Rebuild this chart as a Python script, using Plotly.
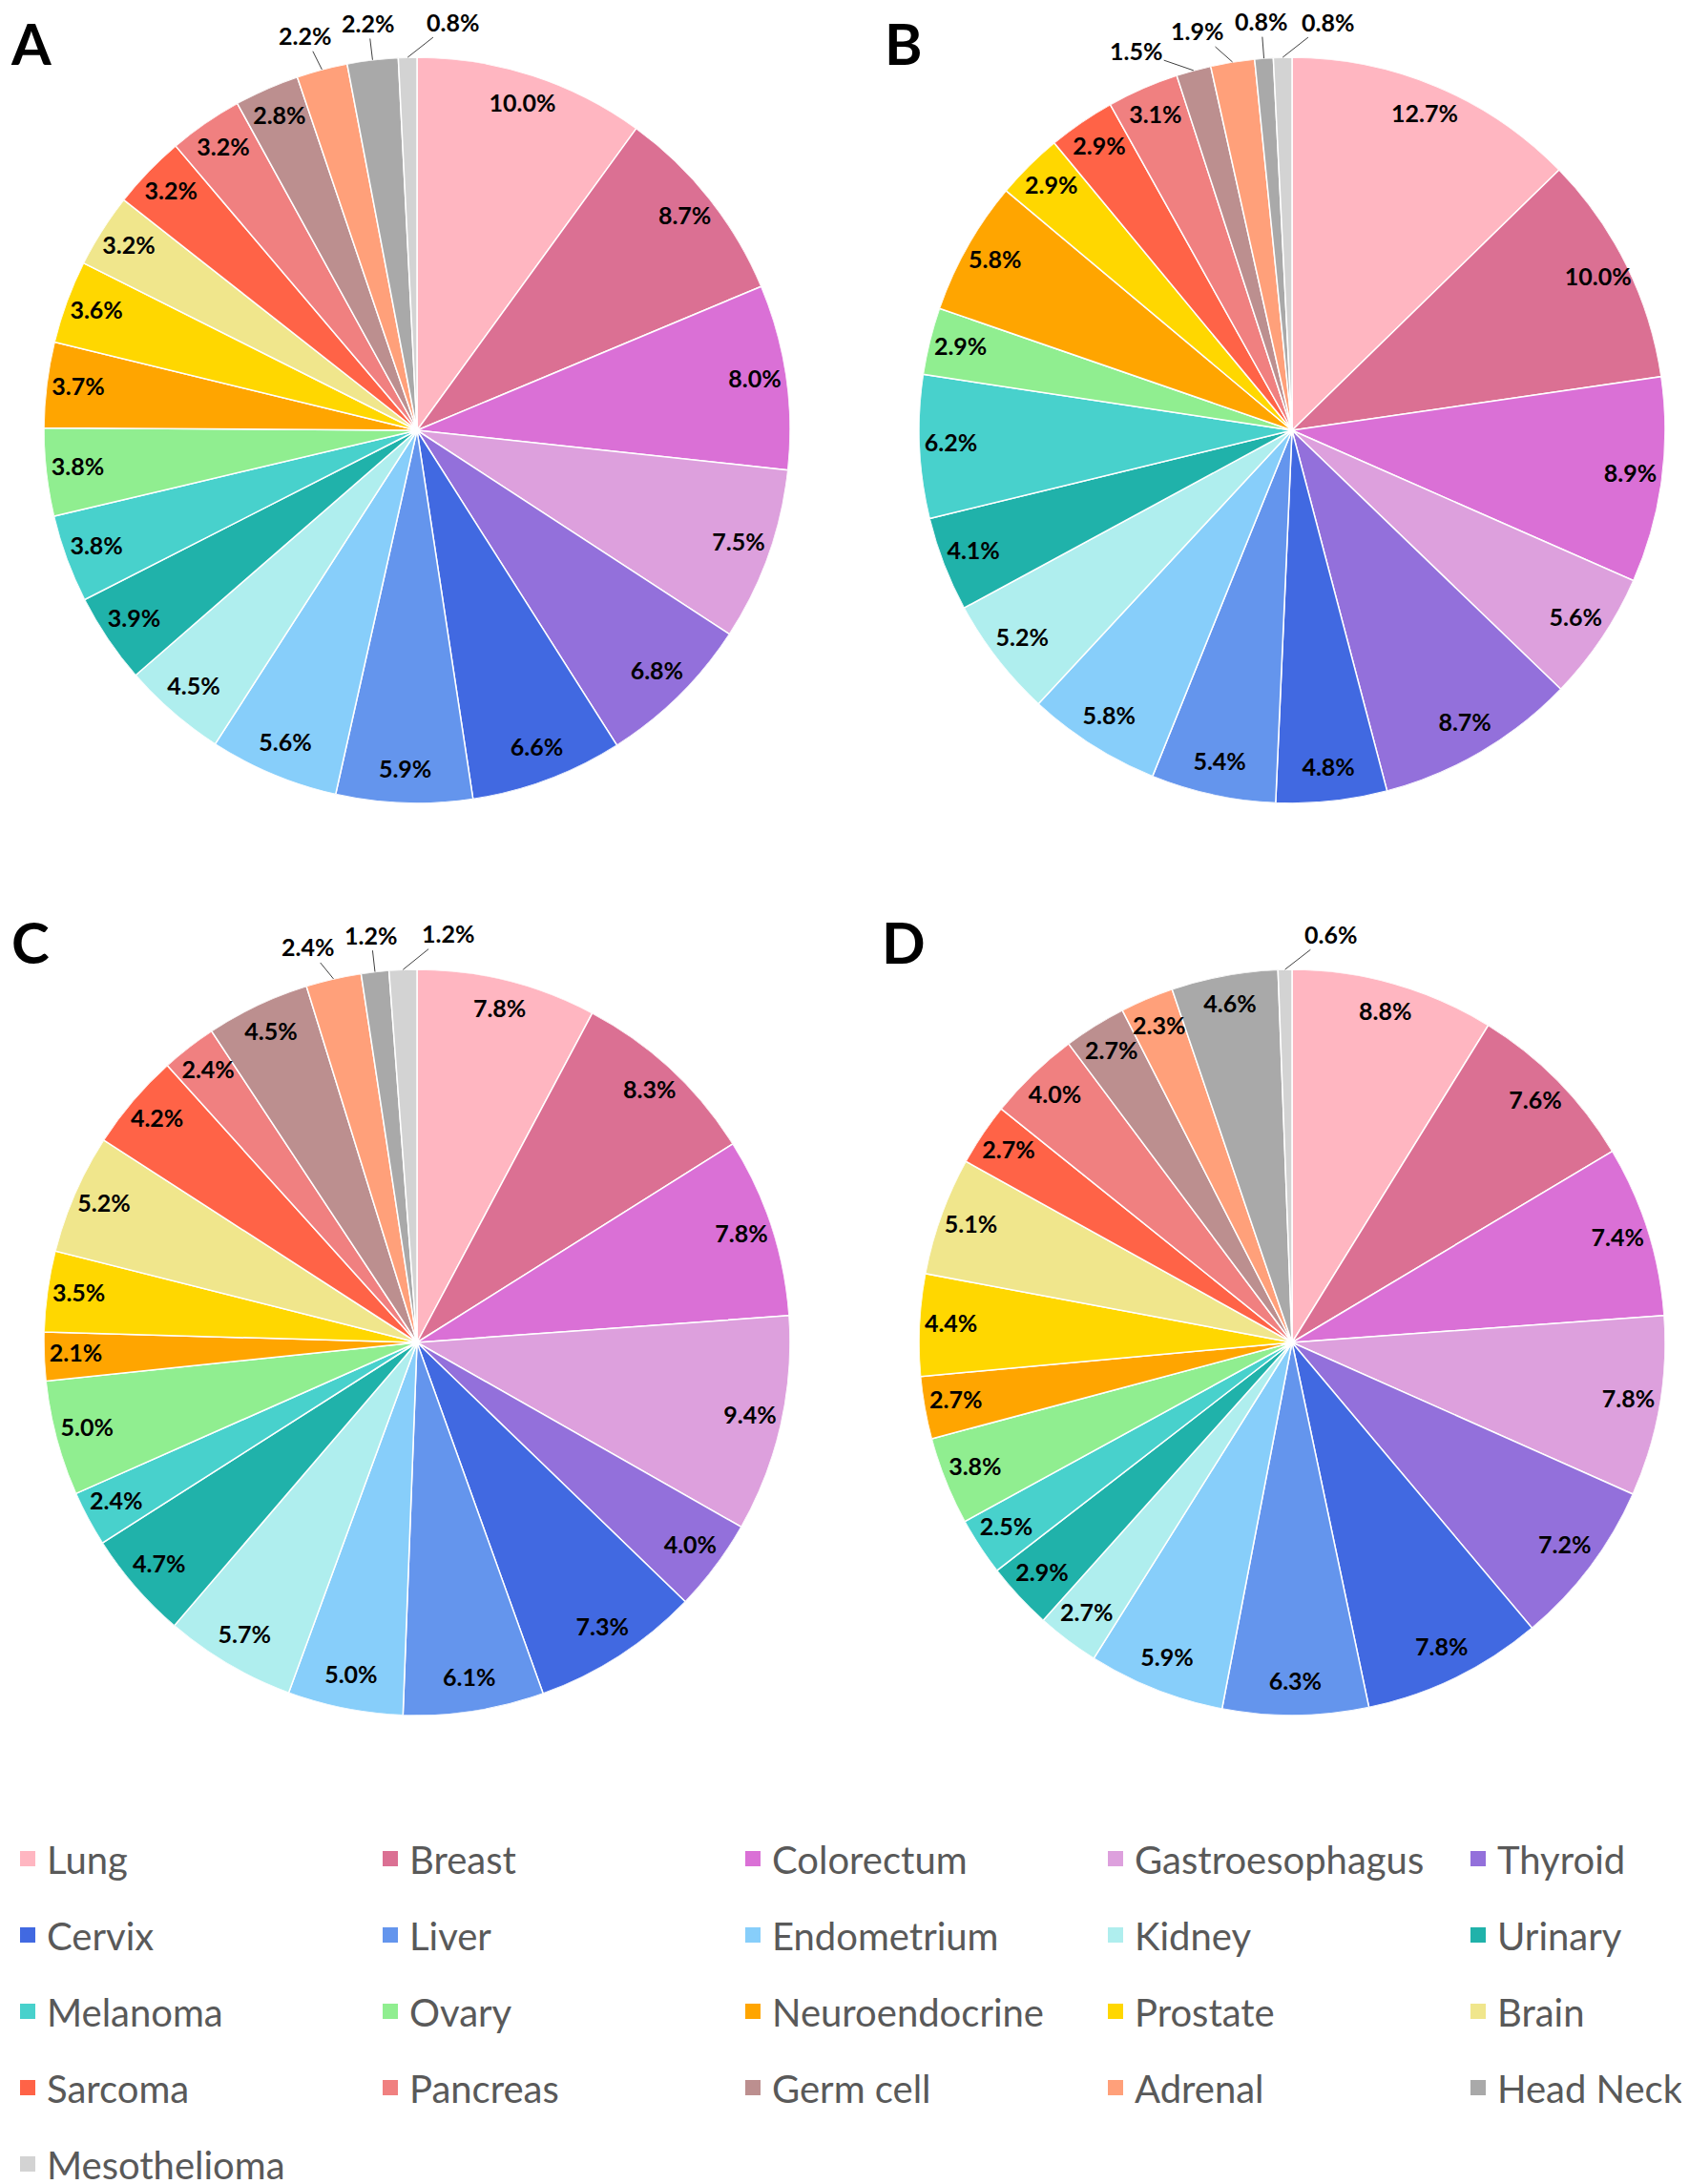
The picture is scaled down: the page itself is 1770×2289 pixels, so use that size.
import math
import plotly.graph_objects as go

W, H = 1770, 2289
R = 391  # pie radius in px

categories = ["Lung", "Breast", "Colorectum", "Gastroesophagus", "Thyroid",
              "Cervix", "Liver", "Endometrium", "Kidney", "Urinary",
              "Melanoma", "Ovary", "Neuroendocrine", "Prostate", "Brain",
              "Sarcoma", "Pancreas", "Germ cell", "Adrenal", "Head Neck",
              "Mesothelioma"]

colors = ["#FFB6C1", "#DB7093", "#DA70D6", "#DDA0DD", "#9370DB",
          "#4169E1", "#6495ED", "#87CEFA", "#AFEEEE", "#20B2AA",
          "#48D1CC", "#90EE90", "#FFA500", "#FFD700", "#F0E68C",
          "#FF6347", "#F08080", "#BC8F8F", "#FFA07A", "#A9A9A9",
          "#D3D3D3"]

share_a = [10.0, 8.7, 8.0, 7.5, 6.8, 6.6, 5.9, 5.6, 4.5, 3.9, 3.8,
           3.8, 3.7, 3.6, 3.2, 3.2, 3.2, 2.8, 2.2, 2.2, 0.8]
share_b = [12.7, 10.0, 8.9, 5.6, 8.7, 4.8, 5.4, 5.8, 5.2, 4.1, 6.2,
           2.9, 5.8, 2.9, 0.0, 2.9, 3.1, 1.5, 1.9, 0.8, 0.8]
share_c = [7.8, 8.3, 7.8, 9.4, 4.0, 7.3, 6.1, 5.0, 5.7, 4.7, 2.4,
           5.0, 2.1, 3.5, 5.2, 4.2, 2.4, 4.5, 2.4, 1.2, 1.2]
share_d = [8.8, 7.6, 7.4, 7.8, 7.2, 7.8, 6.3, 5.9, 2.7, 2.9, 2.5,
           3.8, 2.7, 4.4, 5.1, 2.7, 4.0, 2.7, 2.3, 4.6, 0.6]

# letter, data, number of trailing labels put outside, pie centre (px)
panels = [
    ("A", share_a, 3, (429, 443)),
    ("B", share_b, 4, (1346, 443)),
    ("C", share_c, 3, (429, 1399)),
    ("D", share_d, 1, (1346, 1399)),
]

label_font = dict(family="Lato", size=25, color="black", weight="bold")


def to_px(cx, cy, r, ang):
    a = math.radians(ang)
    return cx + r * R * math.sin(a), cy - r * R * math.cos(a)


fig = go.Figure()

for k, (letter, vals, n_out, (cx, cy)) in enumerate(panels):
    sub = "polar" if k == 0 else "polar%d" % (k + 1)
    total = sum(vals)

    # slice angles (degrees, clockwise from 12 o'clock)
    theta, width, cols, text = [], [], [], []
    start = 0.0
    for v, c in zip(vals, colors):
        if v > 0:
            theta.append((start + v / 2) / total * 360)
            width.append(v / total * 360)
            cols.append(c)
            text.append("%.1f%%" % v)
        start += v

    fig.add_trace(go.Barpolar(
        theta=theta, r=[1] * len(theta), width=width,
        marker=dict(color=cols, line=dict(color="white", width=1.5)),
        subplot=sub, showlegend=False, hoverinfo="skip"))

    # labels at the inside end of each slice
    n_in = len(theta) - n_out
    fig.add_trace(go.Scatterpolar(
        theta=theta[:n_in], r=[0.915] * n_in, mode="text", text=text[:n_in],
        textfont=label_font, subplot=sub, showlegend=False,
        cliponaxis=False, hoverinfo="skip"))

    # small slices: labels outside with leader lines, spread apart
    out_theta = theta[n_in:]
    t_pos = [0.0] * n_out
    for i in range(n_out - 1, -1, -1):
        if i == n_out - 1:
            t_pos[i] = out_theta[i] + 6.5
        else:
            t_pos[i] = min(out_theta[i], t_pos[i + 1] - 9)
    for a, b, s in zip(out_theta, t_pos, text[n_in:]):
        ex, ey = to_px(cx, cy, 1.0, a)
        tx, ty = to_px(cx, cy, 1.1, b)
        fig.add_annotation(
            text=s, xref="paper", yref="paper", x=ex / W, y=1 - ey / H,
            ax=tx - ex, ay=ty - ey, showarrow=True, arrowhead=0,
            arrowwidth=1, arrowcolor="#404040", standoff=0,
            font=label_font)

    fig.update_layout(**{sub: dict(
        domain=dict(x=[(cx - R) / W, (cx + R) / W],
                    y=[1 - (cy + R) / H, 1 - (cy - R) / H]),
        bgcolor="rgba(0,0,0,0)",
        bargap=0,
        angularaxis=dict(rotation=90, direction="clockwise", visible=False),
        radialaxis=dict(range=[0, 1], visible=False),
    )})

    # panel letter
    fig.add_annotation(
        text="<b>%s</b>" % letter, xref="paper", yref="paper",
        x=max(cx - 407, 24) / W, xanchor="center",
        y=1 - max(cy - 457, 0) / H, yanchor="top", showarrow=False,
        borderpad=0, font=dict(family="Lato", size=60, color="black"))

# legend: five rows of five entries
row_y = [1940, 2020, 2100, 2180, 2260]
for i, (name, c) in enumerate(zip(categories, colors)):
    row, col = divmod(i, 5)
    fig.add_trace(go.Scatterpolar(
        r=[None], theta=[None], mode="markers", name=name,
        marker=dict(symbol="square", size=20, color=c),
        legend="legend" if row == 0 else "legend%d" % (row + 1),
        legendwidth=195 if col == 4 else 335,
        subplot="polar", hoverinfo="skip"))

for j, yc in enumerate(row_y):
    key = "legend" if j == 0 else "legend%d" % (j + 1)
    fig.update_layout(**{key: dict(
        orientation="h", x=1 / W, xanchor="left",
        y=1 - yc / H, yanchor="middle",
        font=dict(family="Lato", size=40, color="#595959"),
        bgcolor="rgba(0,0,0,0)", itemsizing="trace",
        entrywidthmode="pixels", entrywidth=335,
    )})

fig.update_layout(
    width=W, height=H,
    margin=dict(l=0, r=0, t=0, b=0, autoexpand=False),
    paper_bgcolor="white", plot_bgcolor="white",
    showlegend=True,
)

fig.write_html("out.html")
